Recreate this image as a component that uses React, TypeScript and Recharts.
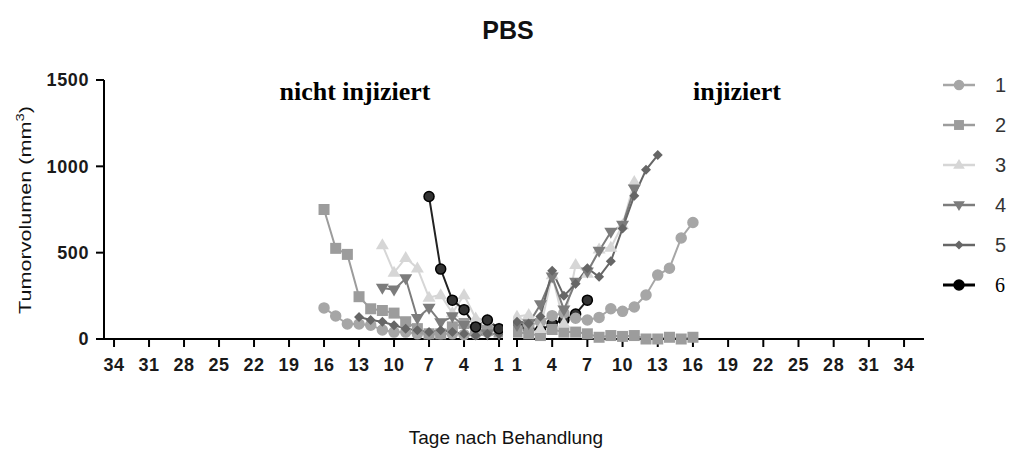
import React from 'react';
import { LineChart, Line, XAxis, YAxis } from 'recharts';

const dayTicks = [1, 4, 7, 10, 13, 16, 19, 22, 25, 28, 31, 34];
const volumeTicks = [0, 500, 1000, 1500];
const mice = ['1', '2', '3', '4', '5', '6'];
const days = [1, 2, 3, 4, 5, 6, 7, 8, 9, 10, 11, 12, 13, 14, 15, 16];

// nicht injiziert (volume per day, day 1 first)
const left1 = [40, 40, 30, 25, 30, 30, 30, 30, 40, 40, 52, 80, 87, 87, 133, 180];
const left2 = [40, 50, 50, 90, 70, 30, 30, 60, 100, 150, 165, 175, 245, 490, 525, 750];
const left3 = [60, 110, 120, 255, 150, 255, 240, 410, 470, 385, 545];
const left4 = [30, 30, 60, 80, 130, 95, 180, 120, 350, 285, 295];
const left5 = [30, 30, 20, 30, 40, 50, 40, 50, 60, 80, 100, 110, 127];
const left6 = [60, 110, 70, 170, 225, 405, 825];

// injiziert
const right1 = [60, 80, 100, 135, 150, 120, 110, 125, 175, 160, 185, 255, 370, 410, 585, 675];
const right2 = [40, 30, 20, 55, 40, 40, 30, 10, 20, 15, 20, 0, 0, 10, 0, 10];
const right3 = [130, 140, 60, 370, 90, 430, 380, 520, 530, 660, 910];
const right4 = [80, 90, 200, 360, 170, 330, 390, 510, 620, 660, 870];
const right5 = [100, 90, 130, 395, 250, 320, 410, 360, 450, 640, 830, 980, 1065];
const right6 = [70, 60, 50, 90, 110, 145, 225];

const leftValues = [left1, left2, left3, left4, left5, left6];
const rightValues = [right1, right2, right3, right4, right5, right6];

const styles = [
  { shape: 'circle', color: '#a6a6a6', stroke: '#a6a6a6' },
  { shape: 'square', color: '#9c9c9c', stroke: '#9c9c9c' },
  { shape: 'triangle', color: '#d6d6d6', stroke: '#d6d6d6' },
  { shape: 'triangleDown', color: '#7c7c7c', stroke: '#7c7c7c' },
  { shape: 'diamond', color: '#666666', stroke: '#666666' },
  { shape: 'circle', color: '#333333', stroke: '#000000' },
];

const toPoints = (values: number[]) => values.map((v, i) => ({ day: days[i], volume: v }));

const Marker = ({ cx, cy, shape, fill, stroke, r = 5 }: any) => {
  if (cx == null || cy == null) return null;
  switch (shape) {
    case 'square':
      return <rect x={cx - r * 1.1} y={cy - r * 1.1} width={2.2 * r} height={2.2 * r} fill={fill} />;
    case 'triangle':
      return <polygon points={`${cx},${cy - r * 1.35} ${cx - r * 1.3},${cy + r * 0.85} ${cx + r * 1.3},${cy + r * 0.85}`} fill={fill} />;
    case 'triangleDown':
      return <polygon points={`${cx},${cy + r * 1.35} ${cx - r * 1.3},${cy - r * 0.85} ${cx + r * 1.3},${cy - r * 0.85}`} fill={fill} />;
    case 'diamond':
      return <polygon points={`${cx},${cy - r} ${cx + r},${cy} ${cx},${cy + r} ${cx - r},${cy}`} fill={fill} />;
    default:
      return <circle cx={cx} cy={cy} r={r} fill={fill} stroke={stroke} strokeWidth={1.5} />;
  }
};

const axisTick = { fill: '#1a1a1a', fontSize: 18, fontWeight: 700, letterSpacing: 0.6 };
const font = 'Liberation Sans, Arial, sans-serif';
const serif = 'Liberation Serif, Times New Roman, serif';

const makeLine = (vals: number[], i: number, panel: string) => (
  <Line
    key={`${panel}-${i}`}
    data={toPoints(vals)}
    dataKey="volume"
    name={mice[i]}
    stroke={i === 5 ? '#222' : styles[i].color}
    strokeWidth={2}
    isAnimationActive={false}
    dot={(p: any) => (
      <Marker key={`${panel}-${i}-${p.index}`} cx={p.cx} cy={p.cy} shape={styles[i].shape} fill={styles[i].color} stroke={styles[i].stroke} />
    )}
    activeDot={false}
  />
);

export default function App() {
  return (
    <div style={{ position: 'absolute', left: 0, top: 0, width: 1010, height: 450, background: '#fff', fontFamily: font }}>
      <div style={{ position: 'absolute', left: 0, top: 0 }}>
        <LineChart width={1010} height={450} margin={{ top: 80, right: 507, bottom: 81, left: 44 }}>
          <XAxis
            type="number"
            dataKey="day"
            domain={[0.66, 34.86]}
            reversed
            ticks={dayTicks}
            allowDataOverflow
            height={30}
            tick={axisTick}
            tickSize={8}
            tickMargin={11}
            stroke="#000"
            strokeWidth={2}
          />
          <YAxis
            type="number"
            domain={[0, 1500]}
            ticks={volumeTicks}
            width={60}
            tick={axisTick}
            tickSize={8}
            tickMargin={7}
            stroke="#000"
            strokeWidth={2}
          />
          {leftValues.map((vals, i) => makeLine(vals, i, 'left'))}
        </LineChart>
      </div>
      <div style={{ position: 'absolute', left: 0, top: 0 }}>
        <LineChart width={1010} height={450} margin={{ top: 80, right: 86, bottom: 81, left: 513 }}>
          <XAxis
            type="number"
            dataKey="day"
            domain={[0.66, 35.7]}
            ticks={dayTicks}
            allowDataOverflow
            height={30}
            tick={axisTick}
            tickSize={8}
            tickMargin={11}
            stroke="#000"
            strokeWidth={2}
          />
          <YAxis type="number" domain={[0, 1500]} hide />
          {/* mouse 6 drawn first here: its early points sit under the others */}
          {makeLine(right6, 5, 'right')}
          {rightValues.slice(0, 5).map((vals, i) => makeLine(vals, i, 'right'))}
        </LineChart>
      </div>
      <svg width={1010} height={450} style={{ position: 'absolute', left: 0, top: 0, pointerEvents: 'none' }}>
        <text x={508} y={39} textAnchor="middle" fontSize={25} fontWeight={700} fontFamily={font} fill="#111">
          PBS
        </text>
        <text x={355} y={100} textAnchor="middle" fontSize={26} fontWeight={700} fontFamily={serif} fill="#000">
          nicht injiziert
        </text>
        <text x={737} y={100} textAnchor="middle" fontSize={26} fontWeight={700} fontFamily={serif} fill="#000">
          injiziert
        </text>
        <text transform="translate(31,210) rotate(-90) scale(1.35,1)" textAnchor="middle" fontSize={16} fontFamily={font} fill="#111">
          Tumorvolumen (mm
          <tspan dy={-7} fontSize={11}>3</tspan>
          <tspan dy={7}>)</tspan>
        </text>
        <text x={506} y={444} textAnchor="middle" fontSize={19} fontFamily={font} fill="#111">
          Tage nach Behandlung
        </text>
        <g className="legend">
          {mice.map((m, i) => {
            const y = 85 + i * 40;
            return (
              <g key={m}>
                <line x1={943} x2={975} y1={y} y2={y} stroke={i === 5 ? '#000' : styles[i].color} strokeWidth={i === 5 ? 3 : 2.5} />
                <Marker cx={959} cy={y} shape={styles[i].shape} fill={i === 5 ? '#000' : styles[i].color} stroke={styles[i].stroke} r={i === 5 ? 5 : 4.5} />
                <text x={995} y={y + 7} fontSize={20} fontFamily={i === 5 ? serif : font} fill={i === 5 ? '#000' : '#333'}>
                  {m}
                </text>
              </g>
            );
          })}
        </g>
      </svg>
    </div>
  );
}
